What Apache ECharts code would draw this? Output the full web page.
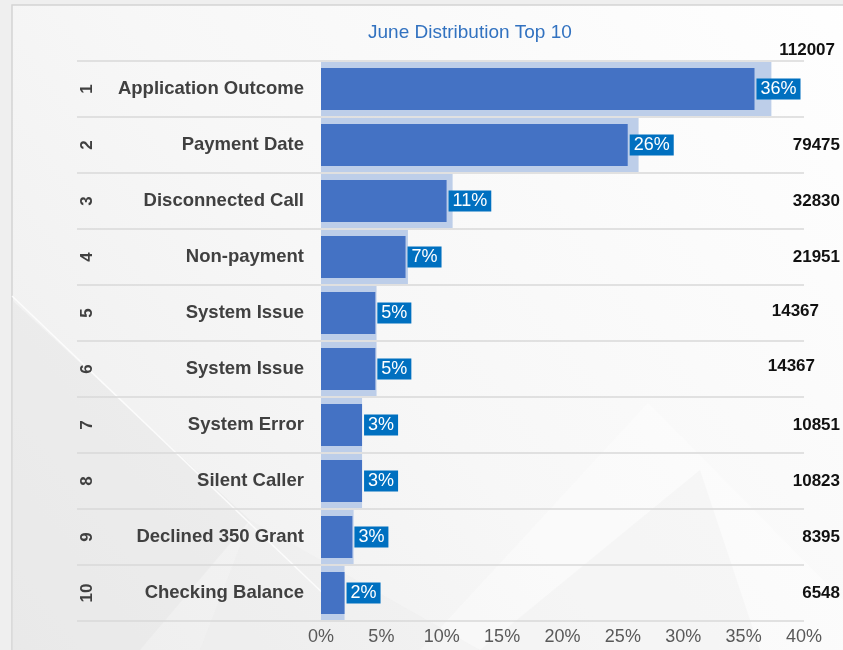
<!DOCTYPE html>
<html>
<head>
<meta charset="utf-8">
<script src="https://cdn.jsdelivr.net/npm/echarts@6/dist/echarts.min.js"></script>
<style>
  html, body { margin: 0; padding: 0; }
  #chart-container { width: 843px; height: 650px; }
</style>
</head>
<body>
<div id="chart-container"></div>
<script>
var dom = document.getElementById('chart-container');
var myChart = echarts.init(dom, null, { renderer: 'canvas' });

// data
var ranks = ['1', '2', '3', '4', '5', '6', '7', '8', '9', '10'];
var names = ['Application Outcome', 'Payment Date', 'Disconnected Call', 'Non-payment', 'System Issue',
             'System Issue', 'System Error', 'Silent Caller', 'Declined 350 Grant', 'Checking Balance'];
var counts = [112007, 79475, 32830, 21951, 14367, 14367, 10851, 10823, 8395, 6548];
var shares = [35.9, 25.4, 10.4, 7.0, 4.5, 4.5, 3.4, 3.4, 2.6, 1.95];
var shadowShares = [37.3, 26.3, 10.9, 7.2, 4.6, 4.6, 3.4, 3.4, 2.7, 1.95];
var shareLabels = ['36%', '26%', '11%', '7%', '5%', '5%', '3%', '3%', '3%', '2%'];
var xTicks = [0, 5, 10, 15, 20, 25, 30, 35, 40];

var font = 'Liberation Sans';

// the count text boxes are not all lined up in the original
var countPad = {
    0: [0, 5, 78, 0],
    4: [0, 21, 4, 0],
    5: [0, 25, 6, 0]
};
var countRich = {};
for (var i = 0; i < counts.length; i++) {
    countRich['c' + i] = {
        fontFamily: font, fontSize: 17, fontWeight: 'bold', color: '#111',
        padding: countPad[i] || [0, 0, 0, 0]
    };
}

var option = {
    backgroundColor: '#efefef',
    textStyle: { fontFamily: font },
    graphic: [
        {
            type: 'rect', silent: true, z: -10,
            shape: { x: 12, y: 5, width: 900, height: 700 },
            style: {
                stroke: '#d4d4d4', lineWidth: 1.5,
                fill: new echarts.graphic.LinearGradient(1, 0, 0, 1, [
                    { offset: 0, color: '#ffffff' },
                    { offset: 0.55, color: '#f7f7f7' },
                    { offset: 1, color: '#ececec' }
                ])
            }
        },
        {
            type: 'polygon', silent: true, z: -9,
            shape: { points: [[12, 300], [250, 520], [140, 650], [12, 650]] },
            style: { fill: 'rgba(228,228,228,0.4)' }
        },
        {
            type: 'polygon', silent: true, z: -9,
            shape: { points: [[648, 403], [843, 600], [843, 650], [420, 650]] },
            style: { fill: 'rgba(255,255,255,0.35)' }
        },
        {
            type: 'polygon', silent: true, z: -9,
            shape: { points: [[250, 520], [480, 650], [700, 470], [760, 650], [200, 650]] },
            style: { fill: 'rgba(230,230,230,0.25)' }
        },
        {
            type: 'line', silent: true, z: -8,
            shape: { x1: 12, y1: 296, x2: 330, y2: 600 },
            style: { stroke: 'rgba(255,255,255,0.8)', lineWidth: 1.5 }
        }
    ],
    title: {
        text: 'June Distribution Top 10',
        left: 363,
        top: 18,
        textStyle: { color: '#3272C0', fontSize: 19, fontWeight: 'normal', fontFamily: font }
    },
    grid: { left: 321, right: 37, top: 61, bottom: 29 },
    xAxis: {
        type: 'value',
        min: xTicks[0],
        max: xTicks[xTicks.length - 1],
        interval: xTicks[1] - xTicks[0],
        axisLine: { show: false },
        axisTick: { show: false },
        splitLine: { show: false },
        axisLabel: {
            formatter: '{value}%',
            color: '#595959', fontSize: 18, fontFamily: font, margin: 7
        }
    },
    yAxis: [
        {
            type: 'category',
            data: names,
            inverse: true,
            position: 'left',
            axisLine: { show: false },
            axisTick: { show: true, length: 244, lineStyle: { color: '#d9d9d9', width: 1.5 } },
            splitLine: { show: true, lineStyle: { color: '#d9d9d9', width: 1.5 } },
            axisLabel: { color: '#404040', fontSize: 18.5, fontWeight: 'bold', fontFamily: font, margin: 17 }
        },
        {
            type: 'category',
            data: ranks,
            inverse: true,
            position: 'left',
            axisLine: { show: false },
            axisTick: { show: false },
            splitLine: { show: false },
            axisLabel: { color: '#404040', fontSize: 17, fontWeight: 'bold', fontFamily: font, rotate: 90, margin: 225 }
        },
        {
            type: 'category',
            data: counts,
            inverse: true,
            position: 'right',
            axisLine: { show: false },
            axisTick: { show: false },
            splitLine: { show: false },
            axisLabel: {
                align: 'right',
                margin: 36,
                formatter: function (v, idx) { return '{c' + idx + '|' + v + '}'; },
                rich: countRich
            }
        }
    ],
    series: [
        {
            name: 'shadow',
            type: 'bar',
            yAxisIndex: 1,
            data: shadowShares,
            barWidth: 54,
            silent: true,
            itemStyle: { color: '#BDCEE9' }
        },
        {
            name: 'share',
            type: 'bar',
            yAxisIndex: 0,
            data: shares,
            barWidth: 42,
            itemStyle: { color: '#4472C4' },
            label: {
                show: true,
                position: 'right',
                distance: 2,
                formatter: function (p) { return shareLabels[p.dataIndex]; },
                backgroundColor: '#0070C0',
                color: '#ffffff',
                fontFamily: font,
                fontSize: 18,
                padding: [2, 4, 1, 4]
            }
        }
    ]
};

myChart.setOption(option);
window.addEventListener('resize', myChart.resize);
</script>
</body>
</html>
